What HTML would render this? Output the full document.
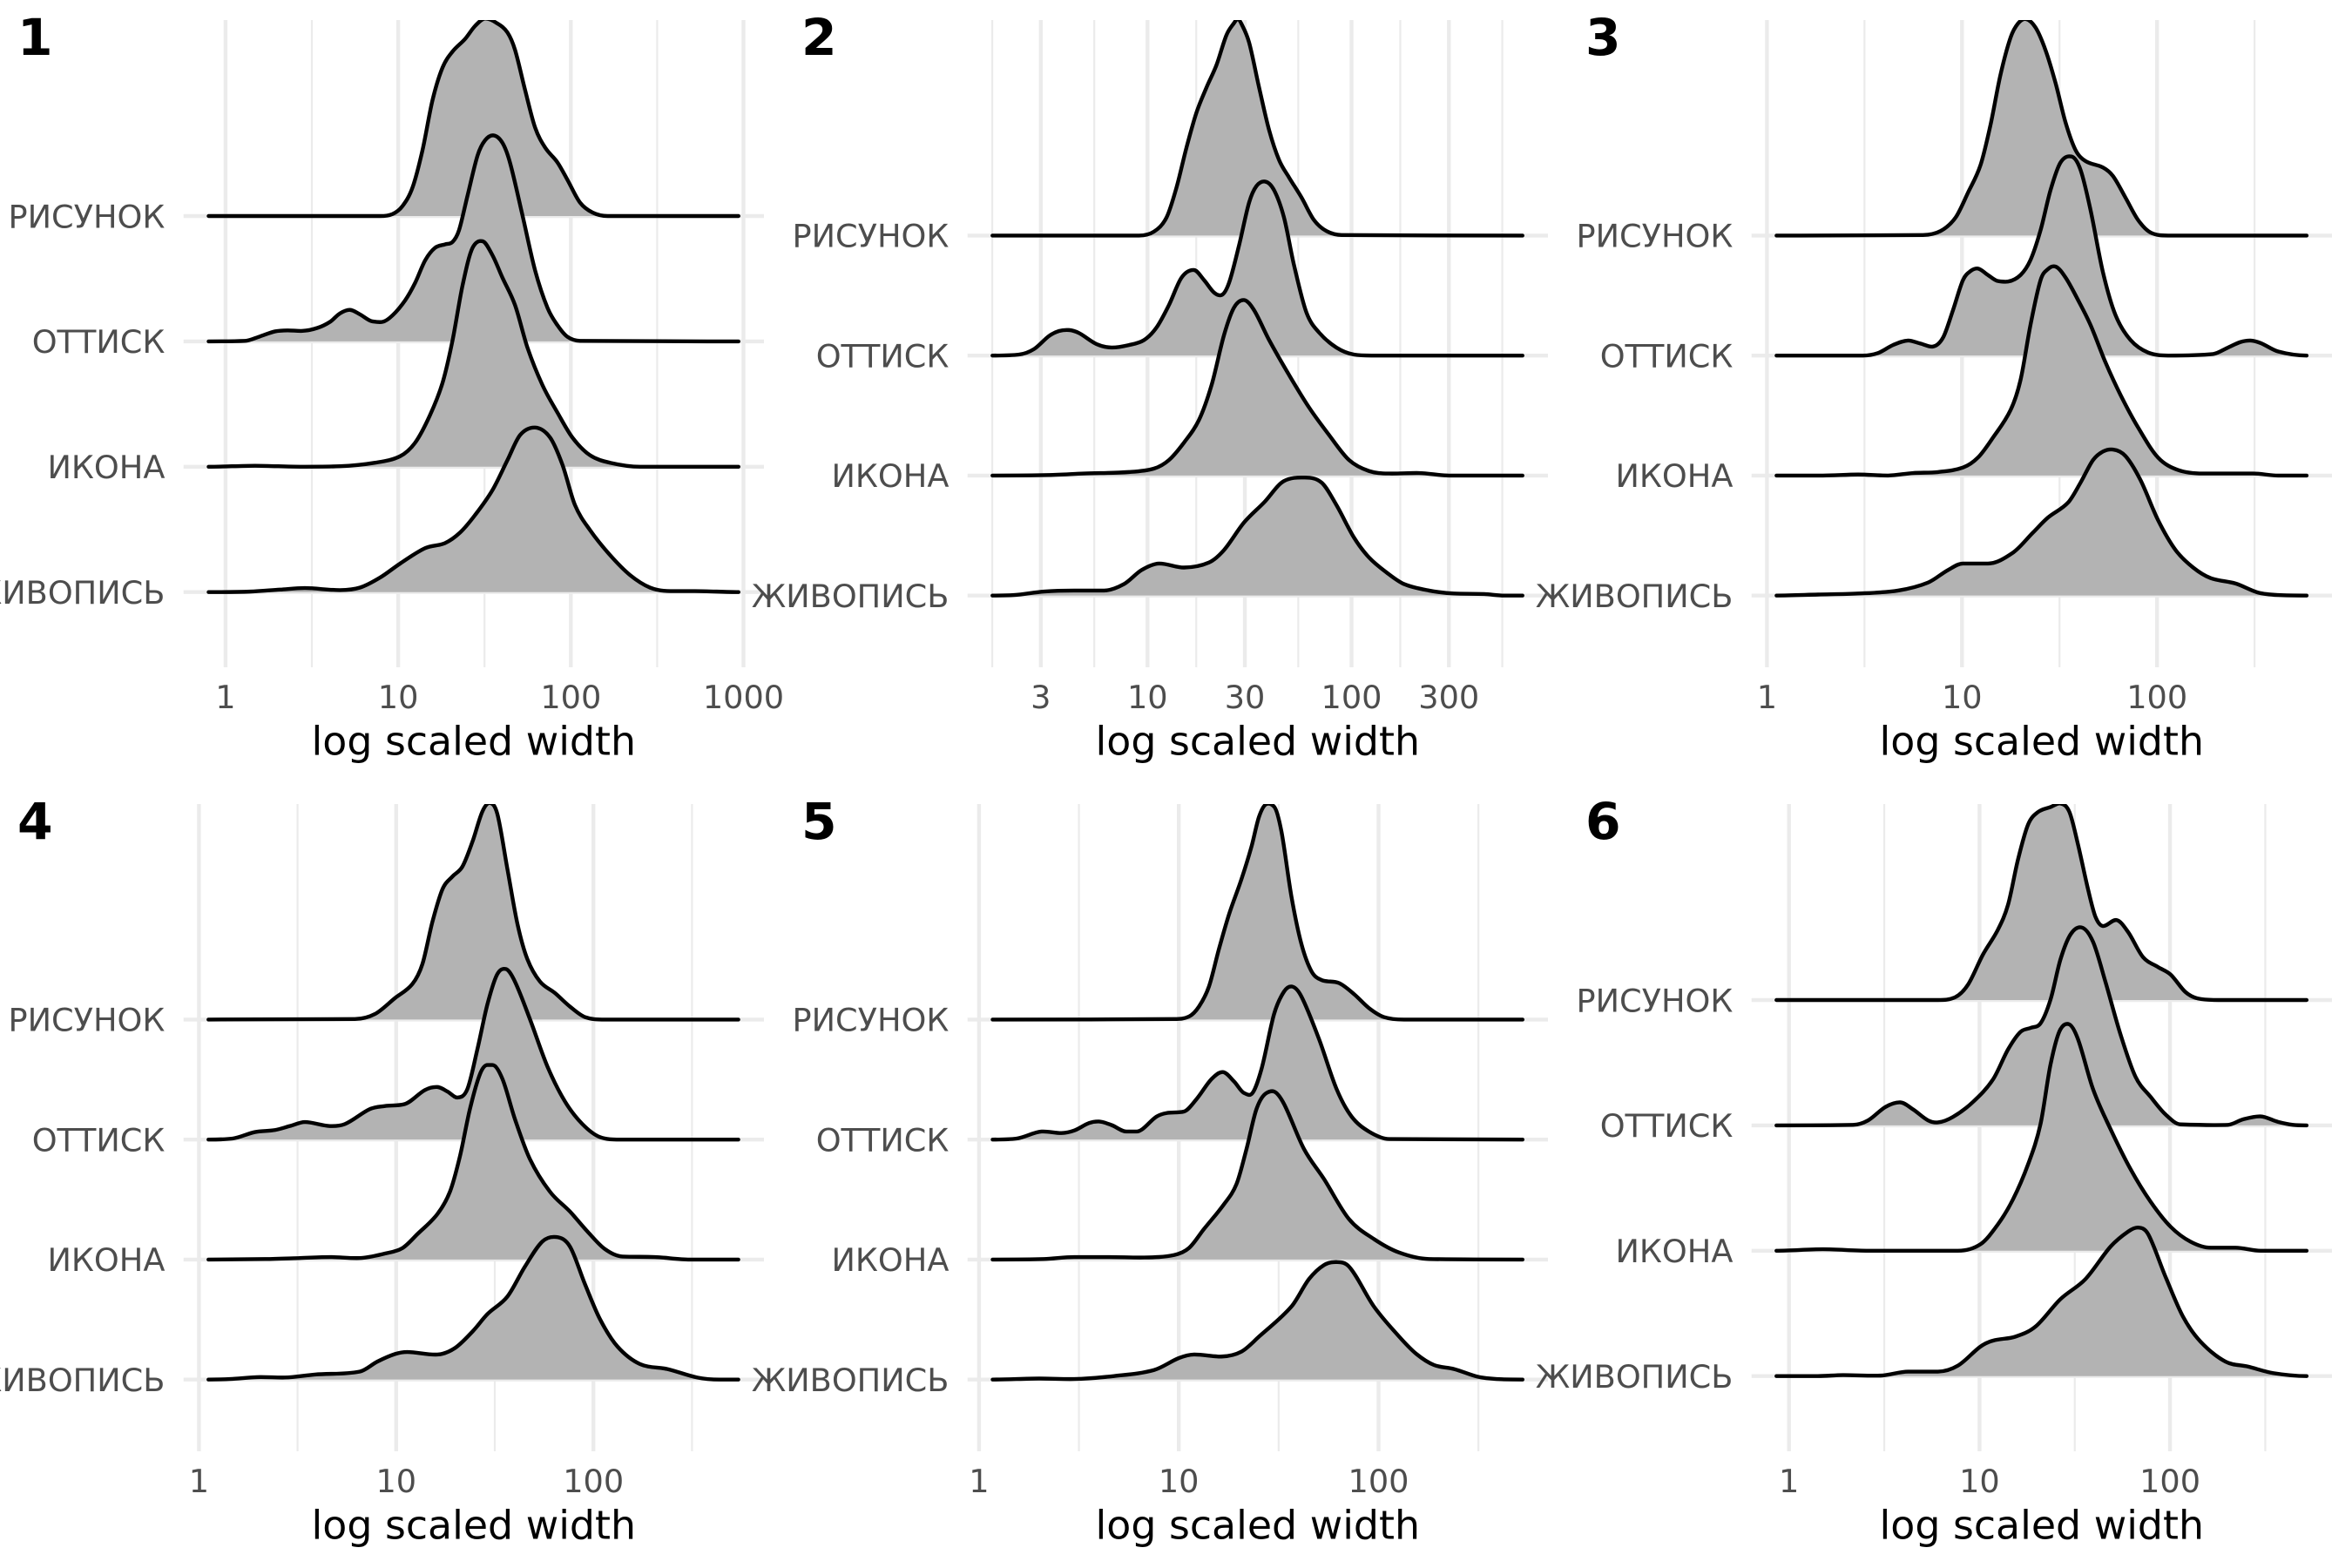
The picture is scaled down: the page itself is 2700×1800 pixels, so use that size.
<!DOCTYPE html>
<html lang="ru">
<head>
<meta charset="utf-8">
<title>Ridgeline plots of log scaled width</title>
<style>
html,body{margin:0;padding:0;background:#fff;}
body{width:2700px;height:1800px;overflow:hidden;}
svg{display:block;font-family:"DejaVu Sans",sans-serif;}
</style>
</head>
<body>
<svg id="chart" xmlns="http://www.w3.org/2000/svg" width="2700" height="1800" viewBox="0 0 2700 1800"></svg>
<script>
const categories = ['РИСУНОК', 'ОТТИСК', 'ИКОНА', 'ЖИВОПИСЬ'];
const axisTitle = 'log scaled width';

const panelTags = ['1', '2', '3', '4', '5', '6'];

const p1Breaks = [1, 10, 100, 1000];
const p2Breaks = [3, 10, 30, 100, 300];
const p3Breaks = [1, 10, 100];
const p4Breaks = [1, 10, 100];
const p5Breaks = [1, 10, 100];
const p6Breaks = [1, 10, 100];

const p1TickLabels = ['1', '10', '100', '1000'];
const p2TickLabels = ['3', '10', '30', '100', '300'];
const p3TickLabels = ['1', '10', '100'];
const p4TickLabels = ['1', '10', '100'];
const p5TickLabels = ['1', '10', '100'];
const p6TickLabels = ['1', '10', '100'];

const p1MinorLog = [0.5, 1.5, 2.5];
const p2MinorLog = [0.239, 0.739, 1.239, 1.739, 2.239, 2.739];
const p3MinorLog = [0.5, 1.5, 2.5];
const p4MinorLog = [0.5, 1.5, 2.5];
const p5MinorLog = [0.5, 1.5, 2.5];
const p6MinorLog = [0.5, 1.5, 2.5];

/* Panel 1 */
const p1DrawingLog = [-.098,.895,.967,1.025,1.083,1.141,1.199,1.257,1.315,1.387,1.445,1.503,1.575,1.633,1.677,1.735,1.793,1.851,1.923,1.981,2.053,2.126,2.213,2.971];
const p1DrawingDensity = [0,0,.04,.20,.57,1.32,2.32,2.97,3.29,3.54,3.80,3.95,3.85,3.67,3.32,2.52,1.77,1.37,1.07,.72,.27,.07,0,0];
const p1PrintLog = [-.098,.113,.200,.287,.359,.446,.533,.605,.663,.721,.779,.851,.909,.967,1.040,1.098,1.156,1.213,1.271,1.315,1.352,1.402,1.460,1.503,1.552,1.604,1.648,1.720,1.793,1.865,1.923,1.981,2.053,2.971];
const p1PrintDensity = [0,.01,.10,.20,.22,.21,.27,.39,.56,.63,.54,.40,.39,.52,.82,1.17,1.62,1.87,1.94,1.99,2.22,2.92,3.72,4.02,4.12,3.97,3.57,2.52,1.42,.67,.32,.09,.01,0];
const p1IconLog = [-.098,.171,.432,.663,.866,1.011,1.098,1.184,1.257,1.315,1.373,1.431,1.489,1.546,1.604,1.677,1.749,1.836,1.923,2.010,2.111,2.227,2.401,2.971];
const p1IconDensity = [0,.02,0,.01,.08,.21,.48,1.03,1.68,2.53,3.63,4.38,4.51,4.23,3.78,3.23,2.38,1.63,1.08,.58,.23,.08,0,0];
const p1PaintingLog = [-.098,.142,.316,.460,.663,.779,.895,1.011,1.156,1.271,1.358,1.445,1.546,1.633,1.706,1.793,1.880,1.952,2.024,2.111,2.227,2.343,2.459,2.575,2.719,2.971];
const p1PaintingDensity = [0,.01,.05,.08,.04,.09,.29,.57,.88,.98,1.19,1.54,2.04,2.64,3.14,3.29,3.09,2.54,1.74,1.24,.74,.34,.09,.02,.02,0];

/* Panel 2 */
const p2DrawingLog = [.240,.958,1.032,1.093,1.142,1.191,1.240,1.289,1.338,1.387,1.424,1.442,1.461,1.498,1.547,1.596,1.645,1.694,1.755,1.816,1.877,1.951,2.838];
const p2DrawingDensity = [0,0,.08,.36,.96,1.76,2.46,2.96,3.41,4.01,4.25,4.33,4.23,3.86,2.96,2.11,1.51,1.16,.76,.31,.09,.01,0];
const p2PrintLog = [.240,.370,.444,.517,.566,.615,.664,.750,.824,.909,.983,1.044,1.105,1.167,1.228,1.277,1.326,1.363,1.400,1.449,1.498,1.534,1.576,1.620,1.669,1.718,1.779,1.841,1.926,2.012,2.098,2.838];
const p2PrintDensity = [0,.02,.13,.39,.49,.51,.45,.23,.16,.21,.31,.56,1.01,1.56,1.71,1.51,1.26,1.21,1.46,2.21,3.06,3.39,3.48,3.31,2.76,1.81,.86,.46,.16,.02,0,0];
const p2IconLog = [.240,.517,.689,.909,1.032,1.105,1.179,1.252,1.314,1.375,1.424,1.473,1.522,1.596,1.694,1.792,1.890,1.988,2.086,2.184,2.331,2.478,2.838];
const p2IconDensity = [0,.01,.04,.07,.14,.31,.66,1.11,1.81,2.81,3.36,3.51,3.31,2.71,2.01,1.36,.81,.31,.09,.04,.05,0,0];
const p2PaintingLog = [.240,.346,.493,.640,.787,.885,.971,1.056,1.179,1.301,1.375,1.473,1.571,1.669,1.767,1.853,1.926,2.012,2.086,2.172,2.257,2.380,2.502,2.650,2.748,2.838];
const p2PaintingDensity = [0,.01,.08,.10,.10,.23,.51,.64,.56,.66,.91,1.46,1.86,2.29,2.36,2.26,1.81,1.16,.76,.46,.23,.10,.04,.03,0,0];

/* Panel 3 */
const p3DrawingLog = [.049,.800,.890,.967,1.031,1.095,1.146,1.197,1.249,1.287,1.326,1.377,1.428,1.479,1.531,1.582,1.633,1.723,1.774,1.838,1.903,1.967,2.056,2.767];
const p3DrawingDensity = [0,.01,.09,.36,.86,1.41,2.21,3.21,3.96,4.24,4.33,4.16,3.71,3.06,2.26,1.71,1.49,1.36,1.19,.76,.31,.06,0,0];
const p3PrintLog = [.049,.492,.569,.646,.723,.787,.851,.903,.954,1.005,1.044,1.082,1.133,1.185,1.236,1.300,1.351,1.403,1.454,1.505,1.562,1.608,1.659,1.723,1.787,1.864,1.954,2.056,2.287,2.364,2.428,2.479,2.531,2.621,2.767];
const p3PrintDensity = [0,0,.05,.21,.30,.24,.18,.36,.91,1.51,1.69,1.74,1.61,1.49,1.48,1.61,1.91,2.51,3.31,3.86,3.98,3.71,2.91,1.66,.81,.31,.06,0,.03,.16,.27,.30,.25,.08,0];
const p3IconLog = [.049,.287,.467,.621,.749,.877,1.005,1.082,1.159,1.249,1.300,1.351,1.403,1.441,1.479,1.531,1.595,1.659,1.736,1.813,1.903,2.005,2.108,2.236,2.492,2.621,2.767];
const p3IconDensity = [0,0,.02,0,.05,.07,.16,.36,.76,1.31,1.91,3.01,3.91,4.13,4.18,3.96,3.51,3.01,2.26,1.61,.96,.36,.11,.04,.04,0,0];
const p3PaintingLog = [.049,.262,.467,.672,.826,.928,1.005,1.133,1.262,1.364,1.441,1.544,1.608,1.672,1.723,1.774,1.838,1.915,2.005,2.095,2.185,2.274,2.403,2.518,2.621,2.767];
const p3PaintingDensity = [0,.02,.04,.10,.26,.51,.64,.64,.86,1.26,1.56,1.86,2.26,2.71,2.88,2.92,2.79,2.31,1.51,.91,.56,.35,.24,.06,.01,0];

/* Panel 4 */
const p4DrawingLog = [.048,.791,.892,.994,1.082,1.133,1.184,1.235,1.285,1.336,1.387,1.437,1.475,1.513,1.564,1.615,1.665,1.729,1.805,1.881,1.957,2.058,2.735];
const p4DrawingDensity = [0,.01,.11,.43,.71,1.11,1.96,2.61,2.86,3.06,3.56,4.16,4.33,4.11,3.01,1.91,1.21,.76,.53,.26,.05,0,0];
const p4PrintLog = [.048,.170,.284,.385,.461,.537,.664,.740,.867,.943,1.044,1.146,1.209,1.260,1.311,1.361,1.412,1.463,1.513,1.556,1.602,1.678,1.767,1.856,1.944,2.033,2.134,2.735];
const p4PrintDensity = [0,.02,.15,.19,.27,.35,.27,.31,.61,.67,.71,.99,1.05,.96,.84,1.01,1.81,2.71,3.31,3.41,3.16,2.41,1.46,.76,.31,.05,0,0];
const p4IconLog = [.048,.335,.512,.664,.816,.943,1.032,1.108,1.209,1.273,1.323,1.374,1.425,1.463,1.488,1.539,1.602,1.678,1.779,1.881,1.970,2.058,2.147,2.312,2.489,2.735];
const p4IconDensity = [0,.01,.03,.05,.03,.12,.23,.51,.91,1.36,2.06,3.01,3.71,3.89,3.89,3.61,2.81,2.01,1.36,.96,.56,.21,.06,.05,0,0];
const p4PaintingLog = [.048,.157,.309,.436,.588,.816,.905,.994,1.057,1.209,1.298,1.387,1.463,1.564,1.653,1.741,1.812,1.881,1.957,2.033,2.122,2.236,2.375,2.527,2.641,2.735];
const p4PaintingDensity = [0,.01,.05,.04,.10,.16,.36,.51,.55,.50,.63,.96,1.31,1.66,2.26,2.76,2.85,2.66,1.91,1.21,.66,.31,.21,.04,0,0];

/* Panel 5 */
const p5DrawingLog = [.068,.976,1.051,1.101,1.151,1.201,1.252,1.314,1.364,1.402,1.439,1.477,1.514,1.564,1.614,1.665,1.715,1.802,1.877,1.952,2.027,2.128,2.721];
const p5DrawingDensity = [0,.01,.06,.26,.66,1.41,2.11,2.81,3.46,4.06,4.31,4.26,3.76,2.46,1.51,.96,.79,.73,.51,.23,.05,0,0];
const p5PrintLog = [.068,.188,.313,.413,.476,.551,.601,.663,.738,.788,.889,.939,1.026,1.089,1.164,1.221,1.277,1.327,1.364,1.414,1.477,1.527,1.567,1.614,1.702,1.790,1.865,1.952,2.053,2.721];
const p5PrintDensity = [0,.02,.16,.13,.18,.33,.36,.29,.16,.16,.46,.53,.56,.81,1.21,1.35,1.16,.93,.91,1.41,2.51,2.96,3.06,2.86,2.01,1.01,.46,.16,.01,0];
const p5IconLog = [.068,.325,.476,.651,.826,.976,1.051,1.126,1.227,1.289,1.339,1.389,1.439,1.477,1.527,1.627,1.727,1.852,1.977,2.103,2.253,2.721];
const p5IconDensity = [0,.01,.05,.05,.04,.09,.23,.61,1.11,1.51,2.21,3.01,3.33,3.36,3.11,2.21,1.61,.81,.41,.14,.01,0];
const p5PaintingLog = [.068,.300,.476,.676,.876,1.001,1.076,1.214,1.314,1.402,1.564,1.652,1.727,1.790,1.852,1.977,2.103,2.190,2.278,2.378,2.516,2.721];
const p5PaintingDensity = [0,.02,.01,.07,.19,.43,.50,.46,.56,.86,1.46,2.01,2.29,2.35,2.26,1.46,.86,.51,.29,.21,.04,0];

/* Panel 6 */
const p6DrawingLog = [-.066,.782,.874,.940,1.018,1.097,1.150,1.202,1.255,1.307,1.373,1.425,1.472,1.517,1.570,1.609,1.648,1.719,1.780,1.858,1.937,2.003,2.081,2.147,2.252,2.717];
const p6DrawingDensity = [0,0,.06,.31,.91,1.41,1.91,2.81,3.51,3.76,3.86,3.93,3.76,3.11,2.21,1.66,1.48,1.60,1.36,.86,.66,.51,.16,.03,0,0];
const p6PrintLog = [-.066,.336,.415,.507,.585,.651,.730,.782,.861,.966,1.071,1.150,1.215,1.268,1.320,1.373,1.425,1.478,1.535,1.596,1.661,1.740,1.819,1.898,1.976,2.055,2.304,2.383,2.475,2.567,2.646,2.717];
const p6PrintDensity = [0,.01,.10,.37,.46,.32,.10,.06,.17,.47,.92,1.52,1.87,1.95,2.04,2.52,3.32,3.82,3.96,3.67,2.87,1.82,.97,.57,.22,.02,.01,.12,.18,.07,.01,0];
const p6IconLog = [-.066,.178,.415,.887,1.005,1.097,1.176,1.255,1.320,1.373,1.425,1.470,1.517,1.596,1.688,1.793,1.898,2.003,2.108,2.213,2.344,2.475,2.717];
const p6IconDensity = [0,.03,0,0,.13,.53,1.03,1.73,2.53,3.73,4.43,4.53,4.23,3.23,2.43,1.63,.98,.48,.18,.06,.06,0,0];
const p6PaintingLog = [-.066,.152,.283,.480,.625,.782,.887,1.005,1.071,1.189,1.294,1.425,1.556,1.688,1.780,1.832,1.885,1.976,2.068,2.160,2.291,2.409,2.541,2.717];
const p6PaintingDensity = [0,0,.02,.01,.09,.09,.21,.59,.71,.79,.99,1.54,1.94,2.59,2.89,2.97,2.84,1.99,1.19,.69,.29,.19,.06,0];

const NS = 'http://www.w3.org/2000/svg';
const svg = document.getElementById('chart');
const DENSITY_PX = 57.4;

const layouts = [
  {ox: 0,    oy: 0,   x0: 258.9, dec: 198.2, y0: 248.0, step: 143.9},
  {ox: 900,  oy: 0,   x0: 183.1, dec: 234.2, y0: 270.4, step: 137.75},
  {ox: 1800, oy: 0,   x0: 228.4, dec: 223.9, y0: 270.4, step: 137.75},
  {ox: 0,    oy: 900, x0: 228.4, dec: 226.4, y0: 270.4, step: 137.75},
  {ox: 900,  oy: 900, x0: 223.9, dec: 229.3, y0: 270.4, step: 137.75},
  {ox: 1800, oy: 900, x0: 253.7, dec: 218.7, y0: 248.0, step: 143.9}
];

const panelData = [
  {breaks: p1Breaks, labels: p1TickLabels, minor: p1MinorLog, logs: [p1DrawingLog, p1PrintLog, p1IconLog, p1PaintingLog], dens: [p1DrawingDensity, p1PrintDensity, p1IconDensity, p1PaintingDensity]},
  {breaks: p2Breaks, labels: p2TickLabels, minor: p2MinorLog, logs: [p2DrawingLog, p2PrintLog, p2IconLog, p2PaintingLog], dens: [p2DrawingDensity, p2PrintDensity, p2IconDensity, p2PaintingDensity]},
  {breaks: p3Breaks, labels: p3TickLabels, minor: p3MinorLog, logs: [p3DrawingLog, p3PrintLog, p3IconLog, p3PaintingLog], dens: [p3DrawingDensity, p3PrintDensity, p3IconDensity, p3PaintingDensity]},
  {breaks: p4Breaks, labels: p4TickLabels, minor: p4MinorLog, logs: [p4DrawingLog, p4PrintLog, p4IconLog, p4PaintingLog], dens: [p4DrawingDensity, p4PrintDensity, p4IconDensity, p4PaintingDensity]},
  {breaks: p5Breaks, labels: p5TickLabels, minor: p5MinorLog, logs: [p5DrawingLog, p5PrintLog, p5IconLog, p5PaintingLog], dens: [p5DrawingDensity, p5PrintDensity, p5IconDensity, p5PaintingDensity]},
  {breaks: p6Breaks, labels: p6TickLabels, minor: p6MinorLog, logs: [p6DrawingLog, p6PrintLog, p6IconLog, p6PaintingLog], dens: [p6DrawingDensity, p6PrintDensity, p6IconDensity, p6PaintingDensity]}
];

function make(tag, attrs, parent) {
  const el = document.createElementNS(NS, tag);
  for (const k in attrs) el.setAttribute(k, attrs[k]);
  parent.appendChild(el);
  return el;
}

/* smooth cubic path through points; control points never pass below the baseline */
function smoothPath(pts, base) {
  const n = pts.length;
  const h = [], s = [], m = [];
  for (let i = 0; i < n - 1; i++) {
    h[i] = pts[i + 1][0] - pts[i][0];
    s[i] = (pts[i + 1][1] - pts[i][1]) / h[i];
  }
  m[0] = 0;
  m[n - 1] = 0;
  for (let i = 1; i < n - 1; i++) {
    if (s[i - 1] === 0 || s[i] === 0) { m[i] = 0; continue; }
    let c = (pts[i + 1][1] - pts[i - 1][1]) / (pts[i + 1][0] - pts[i - 1][0]);
    if (s[i - 1] * s[i] > 0) {
      const lim = 3 * Math.min(Math.abs(s[i - 1]), Math.abs(s[i]));
      if (Math.abs(c) > lim) c = Math.sign(c) * lim;
    } else {
      c = c * 0.6;
    }
    m[i] = c;
  }
  let d = 'M' + pts[0][0].toFixed(2) + ',' + pts[0][1].toFixed(2);
  for (let i = 0; i < n - 1; i++) {
    const dx = h[i] / 3;
    const c1y = Math.min(pts[i][1] + m[i] * dx, base);
    const c2y = Math.min(pts[i + 1][1] - m[i + 1] * dx, base);
    d += 'C' + (pts[i][0] + dx).toFixed(2) + ',' + c1y.toFixed(2) + ' ' +
         (pts[i + 1][0] - dx).toFixed(2) + ',' + c2y.toFixed(2) + ' ' +
         pts[i + 1][0].toFixed(2) + ',' + pts[i + 1][1].toFixed(2);
  }
  return d;
}

const defs = make('defs', {}, svg);

panelData.forEach(function (panel, pi) {
  const L = layouts[pi];
  const xScale = function (logW) { return L.x0 + logW * L.dec; };
  const yBase = function (catIndex) { return L.y0 + catIndex * L.step; };
  const yScale = function (catIndex, density) { return yBase(catIndex) - density * DENSITY_PX; };

  const g = make('g', {transform: 'translate(' + L.ox + ',' + L.oy + ')'}, svg);
  
  

  const gridTop = 23, gridBottom = 766, gridLeft = 210.7, gridRight = 877;

  /* horizontal grid */
  categories.forEach(function (c, i) {
    const ln = make('line', {x1: gridLeft, x2: gridRight, y1: yBase(i), y2: yBase(i), stroke: '#ebebeb', 'stroke-width': 4.4}, g);
    
    
  });
  /* vertical grid */
  panel.minor.forEach(function (m) {
    const ln = make('line', {x1: xScale(m), x2: xScale(m), y1: gridTop, y2: gridBottom, stroke: '#ebebeb', 'stroke-width': 2.2}, g);
    
    
  });
  panel.breaks.forEach(function (b) {
    const px = xScale(Math.log10(b));
    const ln = make('line', {x1: px, x2: px, y1: gridTop, y2: gridBottom, stroke: '#ebebeb', 'stroke-width': 4.4}, g);
    
    
  });

  /* clip */
  const cp = make('clipPath', {id: 'clip-' + pi}, defs);
  make('rect', {x: gridLeft, y: gridTop, width: gridRight - gridLeft, height: gridBottom - gridTop}, cp);

  const ridges = make('g', {'clip-path': 'url(#clip-' + pi + ')'}, g);
  
  

  categories.forEach(function (cat, ci) {
    const logs = panel.logs[ci], dens = panel.dens[ci];
    const pts = logs.map(function (l, k) { return [xScale(l), yScale(ci, dens[k])]; });
    const base = yBase(ci);
    const line = smoothPath(pts, base);
    const area = line + 'L' + pts[pts.length - 1][0].toFixed(2) + ',' + base.toFixed(2) + 'L' + pts[0][0].toFixed(2) + ',' + base.toFixed(2) + 'Z';
    const fill = make('path', {d: area, fill: '#b3b3b3', stroke: 'none'}, ridges);
    
    
    const stroke = make('path', {d: line, fill: 'none', stroke: '#000', 'stroke-width': 4.4, 'stroke-linejoin': 'round', 'stroke-linecap': 'round'}, ridges);
    
    
  });

  /* y labels */
  categories.forEach(function (cat, ci) {
    const t = make('text', {x: 189.4, y: yBase(ci) + 13.3, 'text-anchor': 'end', 'font-size': 36.67, fill: '#4d4d4d'}, g);
    t.textContent = cat;
    
    
  });

  /* x labels */
  panel.breaks.forEach(function (b, i) {
    const t = make('text', {x: xScale(Math.log10(b)), y: 813, 'text-anchor': 'middle', 'font-size': 36.67, fill: '#4d4d4d'}, g);
    t.textContent = panel.labels[i];
    
    
  });

  /* axis title */
  const title = make('text', {x: 543.8, y: 866.5, 'text-anchor': 'middle', 'font-size': 45.83, fill: '#000'}, g);
  title.textContent = axisTitle;
  
  

  /* panel tag */
  const tag = make('text', {x: 20, y: 63, 'font-size': 58.33, 'font-weight': 'bold', fill: '#000'}, g);
  tag.textContent = panelTags[pi];
  
  
});
</script>
</body>
</html>
